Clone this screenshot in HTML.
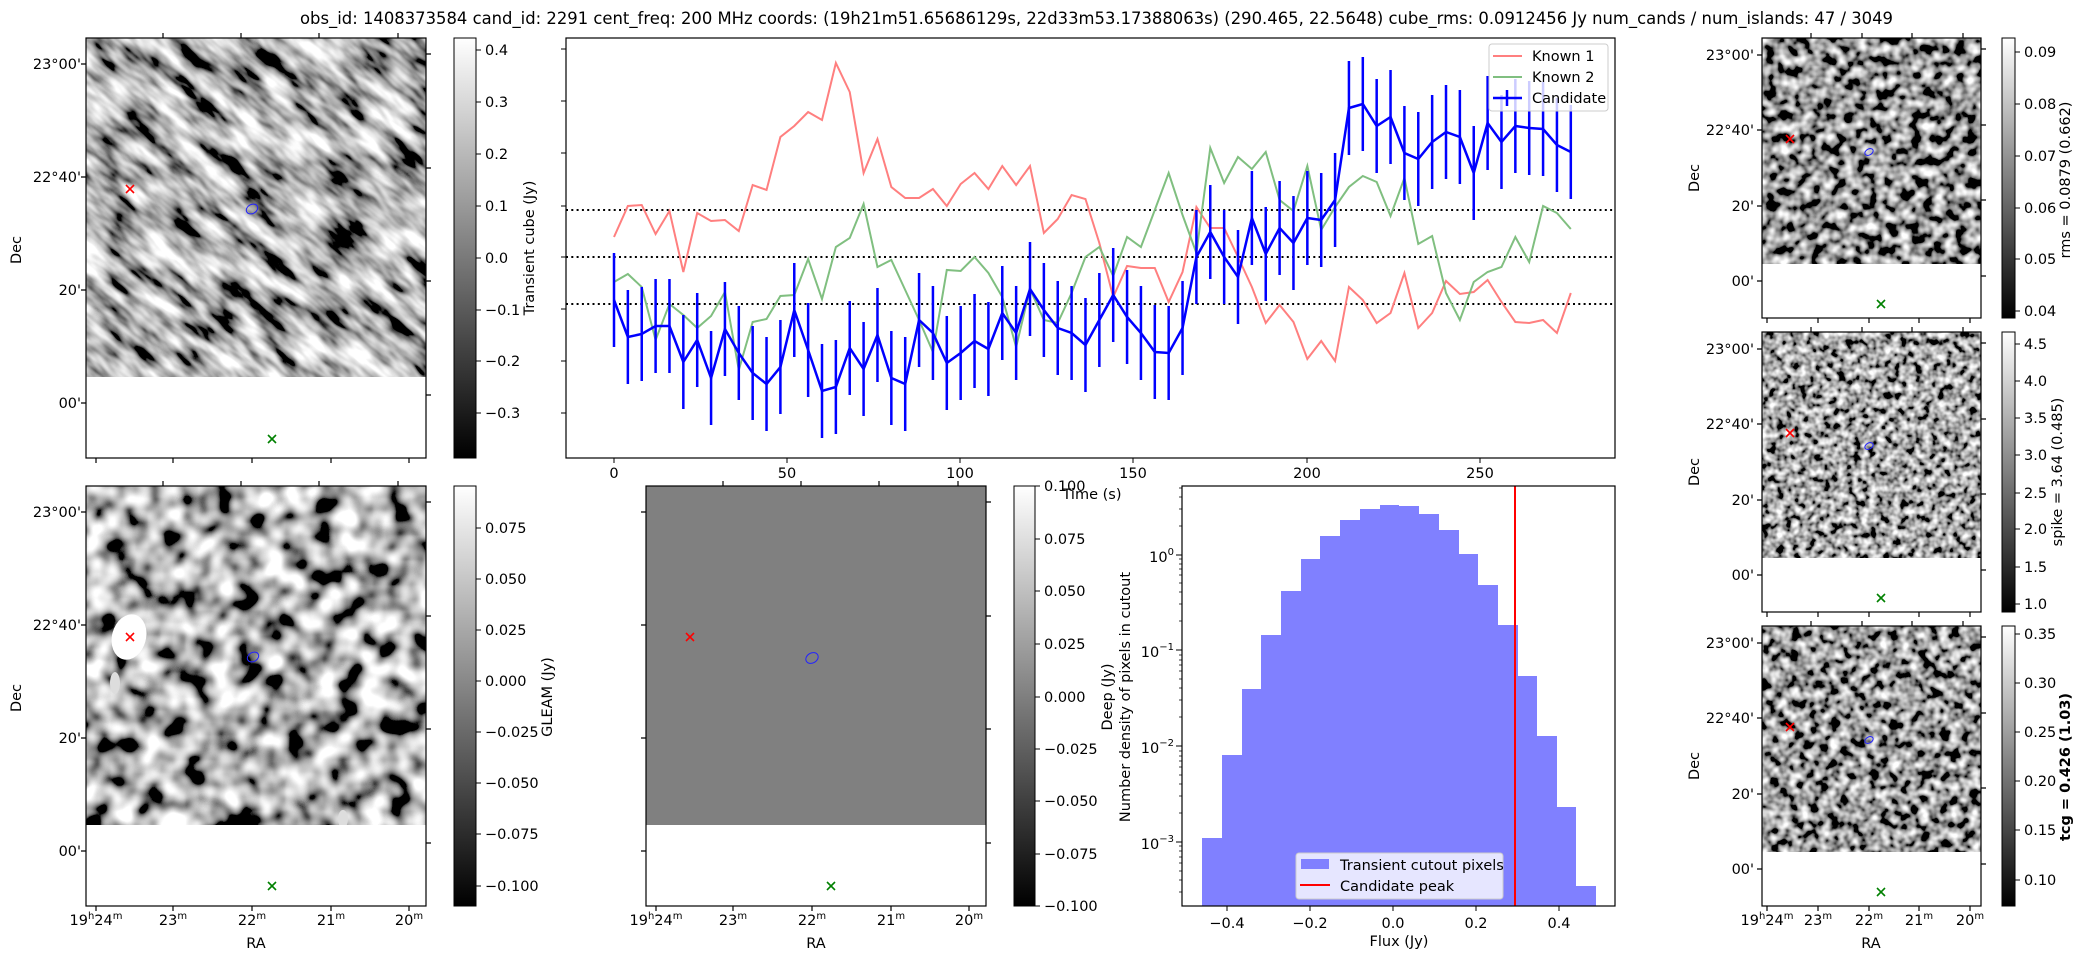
<!DOCTYPE html>
<html><head><meta charset="utf-8"><style>
html,body{margin:0;padding:0;background:#fff;}
svg{display:block;font-family:"DejaVu Sans","Liberation Sans",sans-serif;}
text{font-size:14.5px;fill:#000;}
.r{text-anchor:end}.m{text-anchor:middle}
</style></head><body>
<svg width="2099" height="960" viewBox="0 0 2099 960" xmlns="http://www.w3.org/2000/svg">
<defs>
<linearGradient id="gcb" x1="0" y1="1" x2="0" y2="0"><stop offset="0" stop-color="#000"/><stop offset="1" stop-color="#fff"/></linearGradient>
<filter id="f1" x="0" y="0" width="1" height="1"><feTurbulence type="fractalNoise" baseFrequency="0.022 0.065" numOctaves="3" seed="3"/><feColorMatrix type="matrix" values="2.3 0 0 0 -0.7  2.3 0 0 0 -0.7  2.3 0 0 0 -0.7  0 0 0 0 1"/></filter>
<filter id="f2" x="0" y="0" width="1" height="1"><feTurbulence type="fractalNoise" baseFrequency="0.04" numOctaves="2" seed="7"/><feColorMatrix type="matrix" values="2.8 0 0 0 -0.95  2.8 0 0 0 -0.95  2.8 0 0 0 -0.95  0 0 0 0 1"/></filter>
<filter id="f3" x="0" y="0" width="1" height="1"><feTurbulence type="fractalNoise" baseFrequency="0.09" numOctaves="2" seed="11"/><feColorMatrix type="matrix" values="2.4 0 0 0 -0.88  2.4 0 0 0 -0.88  2.4 0 0 0 -0.88  0 0 0 0 1"/></filter>
<filter id="f4" x="0" y="0" width="1" height="1"><feTurbulence type="fractalNoise" baseFrequency="0.13" numOctaves="2" seed="5"/><feColorMatrix type="matrix" values="2.2 0 0 0 -0.7  2.2 0 0 0 -0.7  2.2 0 0 0 -0.7  0 0 0 0 1"/></filter>
<filter id="f5" x="0" y="0" width="1" height="1"><feTurbulence type="fractalNoise" baseFrequency="0.1" numOctaves="2" seed="21"/><feColorMatrix type="matrix" values="2.4 0 0 0 -0.86  2.4 0 0 0 -0.86  2.4 0 0 0 -0.86  0 0 0 0 1"/></filter>
<clipPath id="cA"><rect x="86" y="38" width="340" height="339"/></clipPath>
<clipPath id="cT"><rect x="566" y="38" width="1049" height="420"/></clipPath>
</defs>

<text x="300" y="24" textLength="1593" lengthAdjust="spacingAndGlyphs" style="font-size:16.5px">obs_id: 1408373584 cand_id: 2291 cent_freq: 200 MHz coords: (19h21m51.65686129s, 22d33m53.17388063s) (290.465, 22.5648) cube_rms: 0.0912456 Jy num_cands / num_islands: 47 / 3049</text>

<!-- Panel A -->
<g clip-path="url(#cA)"><rect x="-200" y="-200" width="900" height="900" fill="#777" filter="url(#f1)" transform="rotate(40 256 208)"/></g>
<g stroke="#000" stroke-width="1.2" fill="none">
<rect x="86" y="38" width="340" height="420"/>
<path d="M81 64H86M81 177H86M81 290H86M81 403H86M426 54H431M426 168H431M426 281H431M426 395H431M163 33V38M241 33V38M319 33V38M398 33V38M96 458V463M173 458V463M252 458V463M331 458V463M409 458V463"/>
</g>
<g stroke="red" stroke-width="1.6"><path d="M126 185L134 193M134 185L126 193"/></g>
<ellipse cx="252" cy="209" rx="6" ry="4.5" transform="rotate(-30 252 209)" fill="none" stroke="#22f" stroke-width="1"/>
<g stroke="green" stroke-width="1.6"><path d="M268 435L276 443M276 435L268 443"/></g>
<text class="r" x="81" y="69">23°00'</text><text class="r" x="81" y="182">22°40'</text><text class="r" x="81" y="295">20'</text><text class="r" x="81" y="408">00'</text>
<text class="m" transform="translate(21 250) rotate(-90)">Dec</text>
<rect x="454" y="38" width="22" height="420" fill="url(#gcb)" stroke="#000" stroke-width="1"/>
<path d="M476 50H481M476 102H481M476 154H481M476 206H481M476 258H481M476 310H481M476 361H481M476 413H481" stroke="#000"/>
<text x="485" y="55">0.4</text><text x="485" y="107">0.3</text><text x="485" y="159">0.2</text><text x="485" y="211">0.1</text><text x="485" y="263">0.0</text><text x="485" y="315">−0.1</text><text x="485" y="366">−0.2</text><text x="485" y="418">−0.3</text>
<text class="m" transform="translate(534 248) rotate(-90)">Transient cube (Jy)</text>

<!-- Time series -->
<rect x="566" y="38" width="1049" height="420" fill="none" stroke="#000" stroke-width="1.2"/>
<path d="M561 49H566M561 101H566M561 153H566M561 206H566M561 257H566M561 309H566M561 361H566M561 413H566M614 458V463M787 458V463M960 458V463M1133 458V463M1307 458V463M1480 458V463" stroke="#000"/>
<text class="m" x="614" y="478">0</text><text class="m" x="787" y="478">50</text><text class="m" x="960" y="478">100</text><text class="m" x="1133" y="478">150</text><text class="m" x="1307" y="478">200</text><text class="m" x="1480" y="478">250</text>
<g stroke="#000" stroke-width="2" stroke-dasharray="2 3.3"><path d="M566 210H1615M566 257H1615M566 304H1615"/></g>
<g clip-path="url(#cT)"><g transform="translate(614 0) scale(3.4667 1)" fill="none">
<polyline vector-effect="non-scaling-stroke" stroke="#ff7f7f" stroke-width="2" points="0,237 4,206 8,205 12,234 16,211 20,272 24,213 28,221 32,220 36,231 40,185 44,190 48,137 52,126 56,112 60,120 64,63 68,92 72,173 76,139 80,187 84,198 88,198 92,189 96,206 100,184 104,173 108,189 112,166 116,185 120,166 124,233 128,219 132,195 136,199 140,243 144,297 148,266 152,268 156,268 160,302 164,272 168,207 172,228 176,228 180,257 184,287 188,323 192,305 196,322 200,359 204,341 208,361 212,287 216,300 220,323 224,313 228,273 232,328 236,313 240,281 244,294 248,292 252,280 256,302 260,322 264,323 268,320 272,333 276,293"/>
<polyline vector-effect="non-scaling-stroke" stroke="#80bf80" stroke-width="2" points="0,282 4,274 8,287 12,340 16,304 20,315 24,328 28,316 32,292 36,370 40,322 44,319 48,296 52,295 56,259 60,299 64,247 68,238 72,204 76,267 80,260 84,290 88,320 92,352 96,270 100,271 104,257 108,273 112,297 116,347 120,289 124,320 128,323 132,293 136,257 140,247 144,276 148,237 152,247 156,210 160,173 164,215 168,253 172,148 176,183 180,157 184,169 188,152 192,200 196,211 200,166 204,230 208,207 212,187 216,176 220,182 224,216 228,178 232,244 236,236 240,293 244,320 248,282 252,272 256,267 260,237 264,262 268,206 272,213 276,229"/>
<polyline vector-effect="non-scaling-stroke" stroke="#0000ff" stroke-width="2.5" points="0,300 4,337 8,334 12,326 16,326 20,362 24,340 28,378 32,329 36,353 40,373 44,384 48,367 52,310 56,350 60,391 64,387 68,348 72,369 76,335 80,378 84,384 88,320 92,333 96,363 100,353 104,341 108,349 112,313 116,333 120,289 124,310 128,328 132,333 136,345 140,320 144,295 148,317 152,333 156,352 160,353 164,328 168,257 172,232 176,257 180,277 184,218 188,254 192,228 196,243 200,218 204,220 208,200 212,108 216,104 220,126 224,117 228,153 232,159 236,142 240,132 244,137 248,173 252,123 256,142 260,126 264,128 268,129 272,145 276,152"/>
<path vector-effect="non-scaling-stroke" stroke="#0000ff" stroke-width="2.5" d="M0 253V347M4 290V384M8 287V381M12 279V373M16 279V373M20 315V409M24 293V387M28 331V425M32 282V376M36 306V400M40 326V420M44 337V431M48 320V414M52 263V357M56 303V397M60 344V438M64 340V434M68 301V395M72 322V416M76 288V382M80 331V425M84 337V431M88 273V367M92 286V380M96 316V410M100 306V400M104 294V388M108 302V396M112 266V360M116 286V380M120 242V336M124 263V357M128 281V375M132 286V380M136 298V392M140 273V367M144 248V342M148 270V364M152 286V380M156 305V399M160 306V400M164 281V375M168 210V304M172 185V279M176 210V304M180 230V324M184 171V265M188 207V301M192 181V275M196 196V290M200 171V265M204 173V267M208 153V247M212 61V155M216 57V151M220 79V173M224 70V164M228 106V200M232 112V206M236 95V189M240 85V179M244 90V184M248 126V220M252 76V170M256 95V189M260 79V173M264 81V175M268 82V176M272 98V192M276 105V199"/>
</g></g>
<rect x="1489" y="44" width="119" height="67" rx="3" fill="#fff" fill-opacity="0.8" stroke="#ccc"/>
<path d="M1493 56H1522" stroke="#ff7f7f" stroke-width="2"/><path d="M1493 77H1522" stroke="#80bf80" stroke-width="2"/><path d="M1493 98H1522M1507 90V106" stroke="#00f" stroke-width="2.5"/>
<text x="1532" y="61">Known 1</text><text x="1532" y="82">Known 2</text><text x="1532" y="103">Candidate</text>

<!-- Panel B GLEAM -->
<svg x="86" y="486" width="340" height="339"><rect x="0" y="0" width="340" height="339" fill="#777" filter="url(#f2)"/><ellipse cx="43" cy="151" rx="17" ry="23" fill="#fff" transform="rotate(15 43 151)"/><ellipse cx="29" cy="197" rx="5" ry="11" fill="#ddd"/><ellipse cx="257" cy="333" rx="5" ry="9" fill="#ddd"/></svg>
<g stroke="#000" stroke-width="1.2" fill="none">
<rect x="86" y="486" width="340" height="420"/>
<path d="M81 512H86M81 625H86M81 738H86M81 851H86M426 502H431M426 616H431M426 729H431M426 843H431M163 481V486M241 481V486M319 481V486M398 481V486M96 906V911M173 906V911M252 906V911M331 906V911M409 906V911"/>
</g>
<g stroke="red" stroke-width="1.6"><path d="M126 633L134 641M134 633L126 641"/></g>
<ellipse cx="253" cy="657" rx="6" ry="4.5" transform="rotate(-30 253 657)" fill="none" stroke="#22f" stroke-width="1"/>
<g stroke="green" stroke-width="1.6"><path d="M268 882L276 890M276 882L268 890"/></g>
<text class="r" x="81" y="517">23°00'</text><text class="r" x="81" y="630">22°40'</text><text class="r" x="81" y="743">20'</text><text class="r" x="81" y="856">00'</text>
<text class="m" transform="translate(21 698) rotate(-90)">Dec</text>
<text class="m" x="96" y="925">19<tspan dy="-6" style="font-size:10px">h</tspan><tspan dy="6">24</tspan><tspan dy="-6" style="font-size:10px">m</tspan></text>
<text class="m" x="173" y="925">23<tspan dy="-6" style="font-size:10px">m</tspan></text>
<text class="m" x="252" y="925">22<tspan dy="-6" style="font-size:10px">m</tspan></text>
<text class="m" x="331" y="925">21<tspan dy="-6" style="font-size:10px">m</tspan></text>
<text class="m" x="409" y="925">20<tspan dy="-6" style="font-size:10px">m</tspan></text>
<text class="m" x="256" y="948">RA</text>
<rect x="454" y="486" width="22" height="420" fill="url(#gcb)" stroke="#000" stroke-width="1"/>
<path d="M476 528H481M476 579H481M476 630H481M476 681H481M476 732H481M476 783H481M476 834H481M476 886H481" stroke="#000"/>
<text x="485" y="533">0.075</text><text x="485" y="584">0.050</text><text x="485" y="635">0.025</text><text x="485" y="686">0.000</text><text x="485" y="737">−0.025</text><text x="485" y="788">−0.050</text><text x="485" y="839">−0.075</text><text x="485" y="891">−0.100</text>
<text class="m" transform="translate(552 697) rotate(-90)">GLEAM (Jy)</text>

<!-- Panel C Deep -->
<rect x="646" y="486" width="340" height="339" fill="#808080"/>
<g stroke="#000" stroke-width="1.2" fill="none">
<rect x="646" y="486" width="340" height="420"/>
<path d="M641 512H646M641 625H646M641 738H646M641 851H646M986 502H991M986 616H991M986 729H991M986 843H991M723 481V486M801 481V486M879 481V486M958 481V486M656 906V911M733 906V911M812 906V911M891 906V911M969 906V911"/>
</g>
<g stroke="red" stroke-width="1.6"><path d="M686 633L694 641M694 633L686 641"/></g>
<ellipse cx="812" cy="658" rx="6.5" ry="5" transform="rotate(-30 812 658)" fill="none" stroke="#22f" stroke-width="1"/>
<g stroke="green" stroke-width="1.6"><path d="M827 882L835 890M835 882L827 890"/></g>
<text class="m" x="656" y="925">19<tspan dy="-6" style="font-size:10px">h</tspan><tspan dy="6">24</tspan><tspan dy="-6" style="font-size:10px">m</tspan></text>
<text class="m" x="733" y="925">23<tspan dy="-6" style="font-size:10px">m</tspan></text>
<text class="m" x="812" y="925">22<tspan dy="-6" style="font-size:10px">m</tspan></text>
<text class="m" x="891" y="925">21<tspan dy="-6" style="font-size:10px">m</tspan></text>
<text class="m" x="969" y="925">20<tspan dy="-6" style="font-size:10px">m</tspan></text>
<text class="m" x="816" y="948">RA</text>
<rect x="1014" y="486" width="21" height="420" fill="url(#gcb)" stroke="#000" stroke-width="1"/>
<path d="M1035 486H1040M1035 539H1040M1035 591H1040M1035 644H1040M1035 697H1040M1035 749H1040M1035 801H1040M1035 854H1040M1035 906H1040" stroke="#000"/>
<text x="1044" y="491">0.100</text><text x="1044" y="544">0.075</text><text x="1044" y="596">0.050</text><text x="1044" y="649">0.025</text><text x="1044" y="702">0.000</text><text x="1044" y="754">−0.025</text><text x="1044" y="806">−0.050</text><text x="1044" y="859">−0.075</text><text x="1044" y="911">−0.100</text>
<text class="m" x="1092" y="499">Time (s)</text>
<text class="m" transform="translate(1112 697) rotate(-90)">Deep (Jy)</text>
<text class="m" transform="translate(1130 697) rotate(-90)">Number density of pixels in cutout</text>

<!-- Histogram -->
<g fill="#8080ff">
<rect x="1202" y="838" width="20" height="68"/><rect x="1222" y="755" width="20" height="151"/><rect x="1242" y="689" width="19" height="217"/><rect x="1261" y="635" width="20" height="271"/><rect x="1281" y="591" width="20" height="315"/><rect x="1301" y="559" width="19" height="347"/><rect x="1320" y="536" width="20" height="370"/><rect x="1340" y="520" width="20" height="386"/><rect x="1360" y="509" width="20" height="397"/><rect x="1380" y="505" width="19" height="401"/><rect x="1399" y="506" width="20" height="400"/><rect x="1419" y="514" width="20" height="392"/><rect x="1439" y="530" width="20" height="376"/><rect x="1459" y="554" width="19" height="352"/><rect x="1478" y="585" width="20" height="321"/><rect x="1498" y="625" width="20" height="281"/><rect x="1518" y="676" width="19" height="230"/><rect x="1537" y="736" width="20" height="170"/><rect x="1557" y="807" width="19" height="99"/><rect x="1576" y="886" width="20" height="20"/>
</g>
<path d="M1515 486V906" stroke="red" stroke-width="2"/>
<rect x="1182" y="486" width="433" height="420" fill="none" stroke="#000" stroke-width="1.2"/>
<path d="M1227 906V911M1310 906V911M1393 906V911M1476 906V911M1559 906V911M1176 555H1182M1176 650H1182M1176 746H1182M1176 842H1182" stroke="#000"/>
<path d="M1179 526H1182M1179 509H1182M1179 497H1182M1179 488H1182M1179 621H1182M1179 604H1182M1179 592H1182M1179 583H1182M1179 575H1182M1179 569H1182M1179 564H1182M1179 559H1182M1179 717H1182M1179 700H1182M1179 688H1182M1179 679H1182M1179 671H1182M1179 665H1182M1179 660H1182M1179 655H1182M1179 813H1182M1179 796H1182M1179 784H1182M1179 775H1182M1179 767H1182M1179 761H1182M1179 756H1182M1179 751H1182M1179 892H1182M1179 880H1182M1179 871H1182M1179 863H1182M1179 857H1182M1179 851H1182M1179 846H1182" stroke="#000" stroke-width="0.8"/>
<text class="m" x="1227" y="928">−0.4</text><text class="m" x="1310" y="928">−0.2</text><text class="m" x="1393" y="928">0.0</text><text class="m" x="1476" y="928">0.2</text><text class="m" x="1559" y="928">0.4</text>
<text class="m" x="1399" y="946">Flux (Jy)</text>
<text class="r" x="1174" y="562">10<tspan dy="-7" style="font-size:10px">0</tspan></text>
<text class="r" x="1174" y="657">10<tspan dy="-7" style="font-size:10px">−1</tspan></text>
<text class="r" x="1174" y="753">10<tspan dy="-7" style="font-size:10px">−2</tspan></text>
<text class="r" x="1174" y="849">10<tspan dy="-7" style="font-size:10px">−3</tspan></text>
<rect x="1296" y="853" width="207" height="46" rx="3" fill="#fff" fill-opacity="0.8" stroke="#ccc"/>
<rect x="1301" y="859" width="28" height="10" fill="#8080ff"/>
<path d="M1300 885H1330" stroke="red" stroke-width="2"/>
<text x="1340" y="870">Transient cutout pixels</text><text x="1340" y="891">Candidate peak</text>

<!-- Right panels -->
<rect x="1762" y="38" width="219" height="226" fill="#555" filter="url(#f3)"/>
<rect x="1762" y="332" width="219" height="226" fill="#666" filter="url(#f4)"/>
<rect x="1762" y="626" width="219" height="226" fill="#555" filter="url(#f5)"/>
<g stroke="#000" stroke-width="1.2" fill="none">
<rect x="1762" y="38" width="219" height="280"/><rect x="1762" y="332" width="219" height="280"/><rect x="1762" y="626" width="219" height="280"/>
<path d="M1757 55H1762M1757 130H1762M1757 206H1762M1757 281H1762M1981 49H1986M1981 125H1986M1981 200H1986M1981 276H1986M1811 33V38M1862 33V38M1912 33V38M1963 33V38M1767 318V323M1818 318V323M1869 318V323M1919 318V323M1970 318V323"/>
<path d="M1757 349H1762M1757 424H1762M1757 500H1762M1757 575H1762M1981 343H1986M1981 419H1986M1981 494H1986M1981 570H1986M1811 327V332M1862 327V332M1912 327V332M1963 327V332M1767 612V617M1818 612V617M1869 612V617M1919 612V617M1970 612V617"/>
<path d="M1757 643H1762M1757 718H1762M1757 794H1762M1757 869H1762M1981 637H1986M1981 713H1986M1981 788H1986M1981 864H1986M1811 621V626M1862 621V626M1912 621V626M1963 621V626M1767 906V911M1818 906V911M1869 906V911M1919 906V911M1970 906V911"/>
</g>
<g stroke="red" stroke-width="1.6"><path d="M1786 135L1794 143M1794 135L1786 143M1786 429L1794 437M1794 429L1786 437M1786 723L1794 731M1794 723L1786 731"/></g>
<g fill="none" stroke="#22f" stroke-width="1"><ellipse cx="1869" cy="152" rx="4.5" ry="3" transform="rotate(-30 1869 152)"/><ellipse cx="1869" cy="446" rx="4.5" ry="3" transform="rotate(-30 1869 446)"/><ellipse cx="1869" cy="740" rx="4.5" ry="3" transform="rotate(-30 1869 740)"/></g>
<g stroke="green" stroke-width="1.6"><path d="M1877 300L1885 308M1885 300L1877 308M1877 594L1885 602M1885 594L1877 602M1877 888L1885 896M1885 888L1877 896"/></g>
<text class="r" x="1754" y="60">23°00'</text><text class="r" x="1754" y="135">22°40'</text><text class="r" x="1754" y="211">20'</text><text class="r" x="1754" y="286">00'</text>
<text class="r" x="1754" y="354">23°00'</text><text class="r" x="1754" y="429">22°40'</text><text class="r" x="1754" y="505">20'</text><text class="r" x="1754" y="580">00'</text>
<text class="r" x="1754" y="648">23°00'</text><text class="r" x="1754" y="723">22°40'</text><text class="r" x="1754" y="799">20'</text><text class="r" x="1754" y="874">00'</text>
<text class="m" transform="translate(1699 178) rotate(-90)">Dec</text>
<text class="m" transform="translate(1699 472) rotate(-90)">Dec</text>
<text class="m" transform="translate(1699 766) rotate(-90)">Dec</text>
<text class="m" x="1767" y="925">19<tspan dy="-6" style="font-size:10px">h</tspan><tspan dy="6">24</tspan><tspan dy="-6" style="font-size:10px">m</tspan></text>
<text class="m" x="1818" y="925">23<tspan dy="-6" style="font-size:10px">m</tspan></text>
<text class="m" x="1869" y="925">22<tspan dy="-6" style="font-size:10px">m</tspan></text>
<text class="m" x="1919" y="925">21<tspan dy="-6" style="font-size:10px">m</tspan></text>
<text class="m" x="1970" y="925">20<tspan dy="-6" style="font-size:10px">m</tspan></text>
<text class="m" x="1871" y="948">RA</text>

<rect x="2002" y="38" width="13" height="280" fill="url(#gcb)" stroke="#000" stroke-width="1"/>
<rect x="2002" y="332" width="13" height="280" fill="url(#gcb)" stroke="#000" stroke-width="1"/>
<rect x="2002" y="626" width="13" height="280" fill="url(#gcb)" stroke="#000" stroke-width="1"/>
<path d="M2015 52H2020M2015 104H2020M2015 156H2020M2015 208H2020M2015 259H2020M2015 311H2020M2015 344H2020M2015 381H2020M2015 418H2020M2015 455H2020M2015 493H2020M2015 529H2020M2015 567H2020M2015 604H2020M2015 634H2020M2015 683H2020M2015 732H2020M2015 781H2020M2015 830H2020M2015 880H2020" stroke="#000"/>
<text x="2024" y="57">0.09</text><text x="2024" y="109">0.08</text><text x="2024" y="161">0.07</text><text x="2024" y="213">0.06</text><text x="2024" y="264">0.05</text><text x="2024" y="316">0.04</text>
<text x="2024" y="349">4.5</text><text x="2024" y="386">4.0</text><text x="2024" y="423">3.5</text><text x="2024" y="460">3.0</text><text x="2024" y="498">2.5</text><text x="2024" y="534">2.0</text><text x="2024" y="572">1.5</text><text x="2024" y="609">1.0</text>
<text x="2024" y="639">0.35</text><text x="2024" y="688">0.30</text><text x="2024" y="737">0.25</text><text x="2024" y="786">0.20</text><text x="2024" y="835">0.15</text><text x="2024" y="885">0.10</text>
<text class="m" transform="translate(2070 180) rotate(-90)">rms = 0.0879 (0.662)</text>
<text class="m" transform="translate(2062 472) rotate(-90)">spike = 3.64 (0.485)</text>
<text class="m" transform="translate(2070 767) rotate(-90)" style="font-weight:bold">tcg = 0.426 (1.03)</text>
</svg>
</body></html>
